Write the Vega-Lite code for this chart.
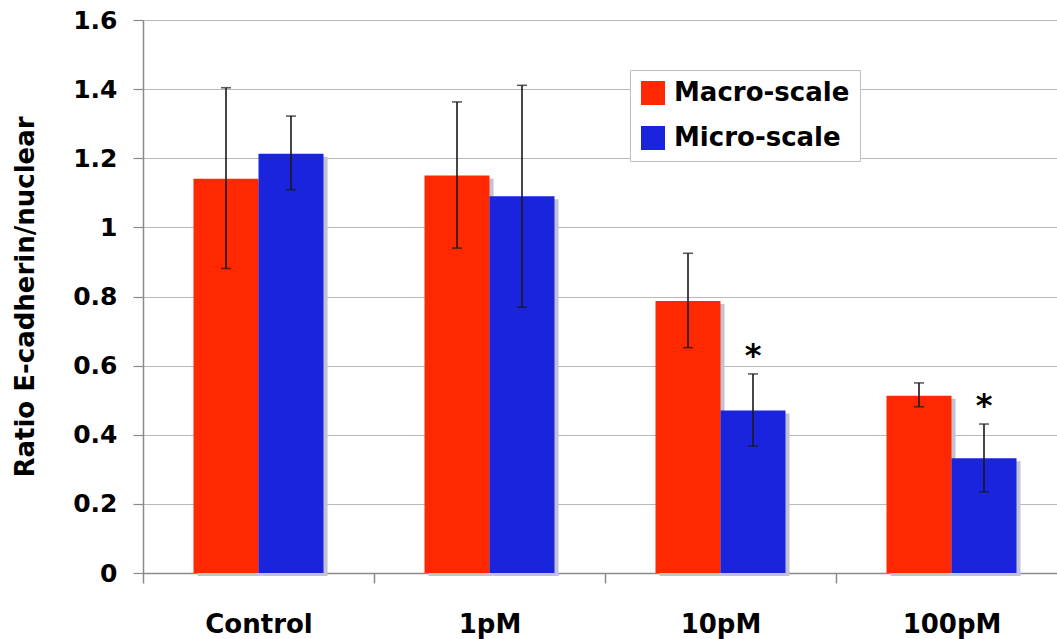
{
  "$schema": "https://vega.github.io/schema/vega-lite/v6.json",
  "width": 924,
  "height": 553,
  "autosize": "none",
  "padding": {"left": 143, "top": 20, "right": 0, "bottom": 66},
  "background": "white",
  "config": {
    "font": "DejaVu Sans",
    "view": {"stroke": null}
  },
  "data": {
    "values": [
      {"dose": "Control", "scale": "Macro-scale", "value": 1.141, "lo": 0.881, "hi": 1.404, "sig": ""},
      {"dose": "Control", "scale": "Micro-scale", "value": 1.213, "lo": 1.109, "hi": 1.322, "sig": ""},
      {"dose": "1pM", "scale": "Macro-scale", "value": 1.150, "lo": 0.940, "hi": 1.363, "sig": ""},
      {"dose": "1pM", "scale": "Micro-scale", "value": 1.090, "lo": 0.769, "hi": 1.411, "sig": ""},
      {"dose": "10pM", "scale": "Macro-scale", "value": 0.787, "lo": 0.652, "hi": 0.925, "sig": ""},
      {"dose": "10pM", "scale": "Micro-scale", "value": 0.470, "lo": 0.367, "hi": 0.576, "sig": "*"},
      {"dose": "100pM", "scale": "Macro-scale", "value": 0.513, "lo": 0.481, "hi": 0.550, "sig": ""},
      {"dose": "100pM", "scale": "Micro-scale", "value": 0.332, "lo": 0.235, "hi": 0.431, "sig": "*"}
    ]
  },
  "encoding": {
    "x": {
      "field": "dose",
      "type": "nominal",
      "sort": ["Control", "1pM", "10pM", "100pM"],
      "scale": {"paddingInner": 0, "paddingOuter": 0},
      "axis": {
        "title": null,
        "labelAngle": 0,
        "labelFont": "DejaVu Sans",
        "labelFontWeight": "bold",
        "labelFontSize": 26,
        "labelColor": "black",
        "labelBaseline": "alphabetic",
        "labelPadding": 49,
        "labelLimit": 300,
        "tickBand": "extent",
        "tickSize": 10,
        "tickColor": "#8a8a8a",
        "tickWidth": 1.5,
        "domainColor": "#8a8a8a",
        "domainWidth": 1.5,
        "grid": false
      }
    }
  },
  "layer": [
    {
      "mark": {"type": "bar", "color": "#c2c2d2", "yOffset": 3},
      "encoding": {
        "xOffset": {"field": "scale", "type": "nominal", "sort": ["Macro-scale", "Micro-scale"], "scale": {"paddingInner": 0, "paddingOuter": 0.777, "align": 0.54}},
        "y": {"field": "value", "type": "quantitative"}
      }
    },
    {
      "encoding": {
        "xOffset": {"field": "scale", "type": "nominal", "sort": ["Macro-scale", "Micro-scale"], "scale": {"paddingInner": 0, "paddingOuter": 0.777}}
      },
      "layer": [
        {
          "mark": {"type": "bar"},
          "encoding": {
            "y": {
              "field": "value",
              "type": "quantitative",
              "scale": {"domain": [0, 1.6], "nice": false},
              "axis": {
                "title": "Ratio E-cadherin/nuclear",
                "titleFont": "DejaVu Sans",
                "titleFontWeight": "bold",
                "titleFontSize": 26,
                "titleColor": "black",
                "titlePadding": 34,
                "values": [0, 0.2, 0.4, 0.6, 0.8, 1, 1.2, 1.4, 1.6],
                "format": "~g",
                "labelFont": "DejaVu Sans",
                "labelFontWeight": "bold",
                "labelFontSize": 25,
                "labelColor": "black",
                "labelPadding": 16,
                "tickSize": 10,
                "tickColor": "#8a8a8a",
                "tickWidth": 1.2,
                "domainColor": "#8a8a8a",
                "domainWidth": 1.5,
                "gridColor": "#b8b8b8",
                "gridWidth": 1.2
              }
            },
            "color": {
              "field": "scale",
              "type": "nominal",
              "scale": {"domain": ["Macro-scale", "Micro-scale"], "range": ["#FF2800", "#1A24DC"]},
              "legend": {
                "title": null,
                "orient": "none",
                "legendX": 487,
                "legendY": 50,
                "symbolType": "square",
                "symbolSize": 576,
                "symbolStrokeWidth": 0,
                "labelFont": "DejaVu Sans",
                "labelFontWeight": "bold",
                "labelFontSize": 26,
                "labelColor": "black",
                "labelLimit": 400,
                "labelOffset": 8,
                "rowPadding": 19,
                "padding": 10,
                "strokeColor": "#c0c0c0",
                "fillColor": "white"
              }
            }
          }
        },
        {
          "mark": {"type": "rule", "color": "#1a1a1a", "strokeWidth": 1.6},
          "encoding": {
            "y": {"field": "lo", "type": "quantitative"},
            "y2": {"field": "hi"}
          }
        },
        {
          "mark": {"type": "tick", "color": "#1a1a1a", "size": 10, "thickness": 1.6},
          "encoding": {
            "y": {"field": "hi", "type": "quantitative"}
          }
        },
        {
          "mark": {"type": "tick", "color": "#1a1a1a", "size": 10, "thickness": 1.6},
          "encoding": {
            "y": {"field": "lo", "type": "quantitative"}
          }
        },
        {
          "transform": [{"filter": "datum.sig != ''"}],
          "mark": {"type": "text", "font": "DejaVu Sans", "fontWeight": "bold", "fontSize": 32, "baseline": "alphabetic", "dy": -8, "color": "black"},
          "encoding": {
            "y": {"field": "hi", "type": "quantitative"},
            "text": {"field": "sig"}
          }
        }
      ]
    }
  ],
  "resolve": {"scale": {"xOffset": "independent"}}
}
